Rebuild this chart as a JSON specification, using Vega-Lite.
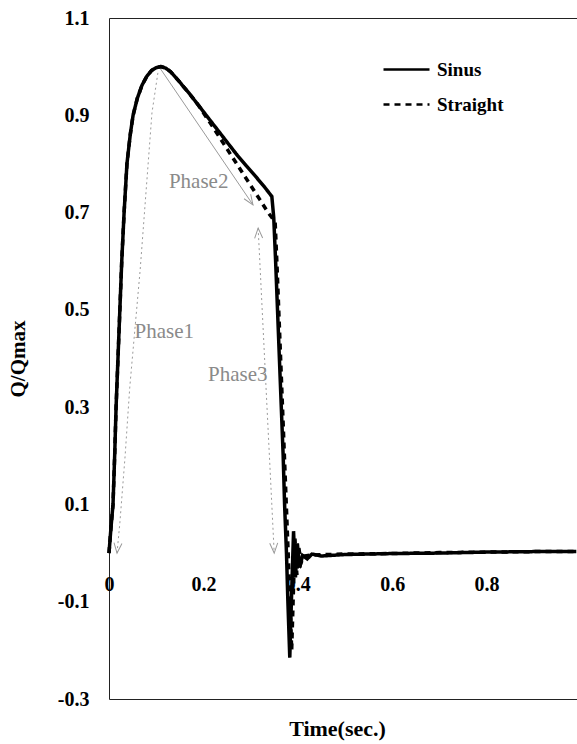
{
  "$schema": "https://vega.github.io/schema/vega-lite/v6.json",
  "width": 468,
  "height": 681,
  "autosize": {"type": "none"},
  "padding": {"left": 109, "top": 18, "right": 0, "bottom": 45},
  "background": "white",
  "config": {"font": "Liberation Serif", "view": {"stroke": "#222", "strokeWidth": 1}},
  "datasets": {
    "curves": [
      {"series": "Sinus", "t": 0, "q": 0},
      {"series": "Sinus", "t": 0.004, "q": 0.05},
      {"series": "Sinus", "t": 0.0085, "q": 0.1},
      {"series": "Sinus", "t": 0.012, "q": 0.2},
      {"series": "Sinus", "t": 0.015, "q": 0.3},
      {"series": "Sinus", "t": 0.019, "q": 0.4},
      {"series": "Sinus", "t": 0.023, "q": 0.5},
      {"series": "Sinus", "t": 0.027, "q": 0.6},
      {"series": "Sinus", "t": 0.032, "q": 0.7},
      {"series": "Sinus", "t": 0.038, "q": 0.8},
      {"series": "Sinus", "t": 0.045, "q": 0.86},
      {"series": "Sinus", "t": 0.051, "q": 0.9},
      {"series": "Sinus", "t": 0.06, "q": 0.935},
      {"series": "Sinus", "t": 0.07, "q": 0.962},
      {"series": "Sinus", "t": 0.08, "q": 0.98},
      {"series": "Sinus", "t": 0.09, "q": 0.992},
      {"series": "Sinus", "t": 0.1, "q": 0.998},
      {"series": "Sinus", "t": 0.11, "q": 1.0},
      {"series": "Sinus", "t": 0.12, "q": 0.997},
      {"series": "Sinus", "t": 0.13, "q": 0.99},
      {"series": "Sinus", "t": 0.15, "q": 0.968},
      {"series": "Sinus", "t": 0.17, "q": 0.945},
      {"series": "Sinus", "t": 0.19, "q": 0.92},
      {"series": "Sinus", "t": 0.21, "q": 0.895},
      {"series": "Sinus", "t": 0.23, "q": 0.87},
      {"series": "Sinus", "t": 0.25, "q": 0.845},
      {"series": "Sinus", "t": 0.27, "q": 0.82},
      {"series": "Sinus", "t": 0.29, "q": 0.797},
      {"series": "Sinus", "t": 0.31, "q": 0.775},
      {"series": "Sinus", "t": 0.33, "q": 0.752},
      {"series": "Sinus", "t": 0.345, "q": 0.733},
      {"series": "Sinus", "t": 0.349, "q": 0.69},
      {"series": "Sinus", "t": 0.353, "q": 0.6},
      {"series": "Sinus", "t": 0.357, "q": 0.5},
      {"series": "Sinus", "t": 0.361, "q": 0.4},
      {"series": "Sinus", "t": 0.365, "q": 0.3},
      {"series": "Sinus", "t": 0.369, "q": 0.2},
      {"series": "Sinus", "t": 0.372, "q": 0.1},
      {"series": "Sinus", "t": 0.376, "q": 0.0},
      {"series": "Sinus", "t": 0.379, "q": -0.1},
      {"series": "Sinus", "t": 0.383, "q": -0.215},
      {"series": "Sinus", "t": 0.387, "q": -0.08},
      {"series": "Sinus", "t": 0.391, "q": 0.045},
      {"series": "Sinus", "t": 0.395, "q": -0.05},
      {"series": "Sinus", "t": 0.399, "q": 0.02},
      {"series": "Sinus", "t": 0.404, "q": -0.03},
      {"series": "Sinus", "t": 0.41, "q": -0.005},
      {"series": "Sinus", "t": 0.42, "q": -0.012},
      {"series": "Sinus", "t": 0.43, "q": -0.002},
      {"series": "Sinus", "t": 0.45, "q": -0.006},
      {"series": "Sinus", "t": 0.5, "q": -0.003},
      {"series": "Sinus", "t": 0.6, "q": -0.001},
      {"series": "Sinus", "t": 0.7, "q": 0.0},
      {"series": "Sinus", "t": 0.8, "q": 0.002},
      {"series": "Sinus", "t": 0.9, "q": 0.003},
      {"series": "Sinus", "t": 0.99, "q": 0.003},
      {"series": "Straight", "t": 0, "q": 0},
      {"series": "Straight", "t": 0.004, "q": 0.05},
      {"series": "Straight", "t": 0.0085, "q": 0.1},
      {"series": "Straight", "t": 0.012, "q": 0.2},
      {"series": "Straight", "t": 0.015, "q": 0.3},
      {"series": "Straight", "t": 0.019, "q": 0.4},
      {"series": "Straight", "t": 0.023, "q": 0.5},
      {"series": "Straight", "t": 0.027, "q": 0.6},
      {"series": "Straight", "t": 0.032, "q": 0.7},
      {"series": "Straight", "t": 0.038, "q": 0.8},
      {"series": "Straight", "t": 0.045, "q": 0.86},
      {"series": "Straight", "t": 0.051, "q": 0.9},
      {"series": "Straight", "t": 0.06, "q": 0.935},
      {"series": "Straight", "t": 0.07, "q": 0.962},
      {"series": "Straight", "t": 0.08, "q": 0.98},
      {"series": "Straight", "t": 0.09, "q": 0.992},
      {"series": "Straight", "t": 0.1, "q": 0.998},
      {"series": "Straight", "t": 0.11, "q": 1.0},
      {"series": "Straight", "t": 0.12, "q": 0.997},
      {"series": "Straight", "t": 0.13, "q": 0.99},
      {"series": "Straight", "t": 0.15, "q": 0.968},
      {"series": "Straight", "t": 0.17, "q": 0.945},
      {"series": "Straight", "t": 0.19, "q": 0.92},
      {"series": "Straight", "t": 0.2, "q": 0.905},
      {"series": "Straight", "t": 0.22, "q": 0.876},
      {"series": "Straight", "t": 0.24, "q": 0.846},
      {"series": "Straight", "t": 0.26, "q": 0.816},
      {"series": "Straight", "t": 0.28, "q": 0.786},
      {"series": "Straight", "t": 0.3, "q": 0.756},
      {"series": "Straight", "t": 0.32, "q": 0.726},
      {"series": "Straight", "t": 0.337, "q": 0.7},
      {"series": "Straight", "t": 0.345, "q": 0.69},
      {"series": "Straight", "t": 0.352, "q": 0.68},
      {"series": "Straight", "t": 0.356, "q": 0.59},
      {"series": "Straight", "t": 0.36, "q": 0.49},
      {"series": "Straight", "t": 0.364, "q": 0.39},
      {"series": "Straight", "t": 0.368, "q": 0.29},
      {"series": "Straight", "t": 0.372, "q": 0.19},
      {"series": "Straight", "t": 0.376, "q": 0.09},
      {"series": "Straight", "t": 0.38, "q": -0.01},
      {"series": "Straight", "t": 0.384, "q": -0.11},
      {"series": "Straight", "t": 0.387, "q": -0.2},
      {"series": "Straight", "t": 0.39, "q": -0.1},
      {"series": "Straight", "t": 0.394, "q": 0.03},
      {"series": "Straight", "t": 0.398, "q": -0.045},
      {"series": "Straight", "t": 0.402, "q": 0.012},
      {"series": "Straight", "t": 0.407, "q": -0.02},
      {"series": "Straight", "t": 0.413, "q": -0.006},
      {"series": "Straight", "t": 0.43, "q": -0.004},
      {"series": "Straight", "t": 0.5, "q": -0.002},
      {"series": "Straight", "t": 0.6, "q": -0.001},
      {"series": "Straight", "t": 0.7, "q": 0.001},
      {"series": "Straight", "t": 0.8, "q": 0.002},
      {"series": "Straight", "t": 0.9, "q": 0.003},
      {"series": "Straight", "t": 0.99, "q": 0.003}
    ],
    "arrows": [
      {"arrow": "Phase1", "t": 0.104, "q": 0.99},
      {"arrow": "Phase1", "t": 0.091, "q": 0.905},
      {"arrow": "Phase1", "t": 0.087, "q": 0.853},
      {"arrow": "Phase1", "t": 0.076, "q": 0.711},
      {"arrow": "Phase1", "t": 0.066, "q": 0.582},
      {"arrow": "Phase1", "t": 0.044, "q": 0.341},
      {"arrow": "Phase1", "t": 0.034, "q": 0.198},
      {"arrow": "Phase1", "t": 0.023, "q": 0.062},
      {"arrow": "Phase1", "t": 0.017, "q": 0.0},
      {"arrow": "Phase2", "t": 0.108, "q": 0.997},
      {"arrow": "Phase2", "t": 0.305, "q": 0.716},
      {"arrow": "Phase3", "t": 0.316, "q": 0.668},
      {"arrow": "Phase3", "t": 0.35, "q": 0.0}
    ],
    "heads": [
      {"arrow": "Phase1", "t": 0.017, "q": 0.0, "dir": "p1"},
      {"arrow": "Phase2", "t": 0.305, "q": 0.716, "dir": "p2"},
      {"arrow": "Phase3", "t": 0.35, "q": 0.0, "dir": "p3down"},
      {"arrow": "Phase3", "t": 0.316, "q": 0.668, "dir": "p3up"}
    ],
    "labels": [
      {"label": "Phase1", "t": 0.117, "q": 0.454},
      {"label": "Phase2", "t": 0.19, "q": 0.763},
      {"label": "Phase3", "t": 0.273, "q": 0.366}
    ]
  },
  "layer": [
    {
      "data": {"name": "arrows"},
      "transform": [{"filter": "datum.arrow != 'Phase2'"}],
      "mark": {"type": "line", "color": "#9a9a9a", "strokeWidth": 1, "strokeDash": [2, 3]},
      "encoding": {
        "x": {"field": "t", "type": "quantitative", "scale": {"domain": [0, 0.9915], "nice": false, "zero": false},
          "axis": {"values": [0, 0.2, 0.4, 0.6, 0.8], "labelExpr": "'' + datum.value", "offset": -146, "domain": false, "ticks": false, "grid": false, "labelPadding": 21, "labelFontSize": 20, "labelFontWeight": "bold", "labelColor": "black", "labelFlush": false, "labelOverlap": false, "title": "Time(sec.)", "titleFontSize": 22, "titleFontWeight": "bold", "titleColor": "black", "titleY": 175, "titleX": 228, "titleBaseline": "middle"}},
        "y": {"field": "q", "type": "quantitative", "scale": {"domain": [-0.3, 1.1], "nice": false, "zero": false},
          "axis": {"values": [-0.3, -0.1, 0.1, 0.3, 0.5, 0.7, 0.9, 1.1], "labelExpr": "'' + datum.value", "domain": false, "ticks": false, "grid": false, "labelPadding": 20, "labelFontSize": 20, "labelFontWeight": "bold", "labelColor": "black", "labelFlush": false, "labelOverlap": false, "title": "Q/Qmax", "titleFontSize": 21, "titleFontWeight": "bold", "titleColor": "black", "titlePadding": 29}},
        "detail": {"field": "arrow"}
      }
    },
    {
      "data": {"name": "arrows"},
      "transform": [{"filter": "datum.arrow == 'Phase2'"}],
      "mark": {"type": "line", "color": "#9a9a9a", "strokeWidth": 1},
      "encoding": {
        "x": {"field": "t", "type": "quantitative"},
        "y": {"field": "q", "type": "quantitative"}
      }
    },
    {
      "data": {"name": "heads"},
      "mark": {"type": "point", "shape": "M-0.8,-2L0,0L0.8,-2", "filled": false, "stroke": "#9a9a9a", "strokeWidth": 1, "size": 100, "opacity": 1},
      "encoding": {
        "x": {"field": "t", "type": "quantitative"},
        "y": {"field": "q", "type": "quantitative"},
        "angle": {"field": "dir", "type": "nominal", "scale": {"type": "ordinal", "domain": ["p1", "p2", "p3down", "p3up"], "range": [5.5, -34, -2.8, 177.2]}, "legend": null}
      }
    },
    {
      "data": {"name": "labels"},
      "mark": {"type": "text", "font": "Liberation Serif", "fontSize": 21, "color": "#8a8a8a", "align": "center", "baseline": "middle"},
      "encoding": {
        "x": {"field": "t", "type": "quantitative"},
        "y": {"field": "q", "type": "quantitative"},
        "text": {"field": "label"}
      }
    },
    {
      "data": {"name": "curves"},
      "mark": {"type": "line", "color": "black", "strokeWidth": 3.5},
      "encoding": {
        "x": {"field": "t", "type": "quantitative"},
        "y": {"field": "q", "type": "quantitative"},
        "strokeDash": {"field": "series", "type": "nominal", "scale": {"domain": ["Sinus", "Straight"], "range": [[1, 0], [6, 5]]},
          "legend": {"orient": "none", "legendX": 273, "legendY": 27, "title": null, "symbolType": "stroke", "symbolSize": 2116, "symbolStrokeWidth": 2.5, "symbolStrokeColor": "black", "labelFontSize": 19, "labelFontWeight": "bold", "labelColor": "black", "labelFont": "Liberation Serif", "labelOffset": 6, "rowPadding": -13, "padding": 0}}
      }
    }
  ]
}
